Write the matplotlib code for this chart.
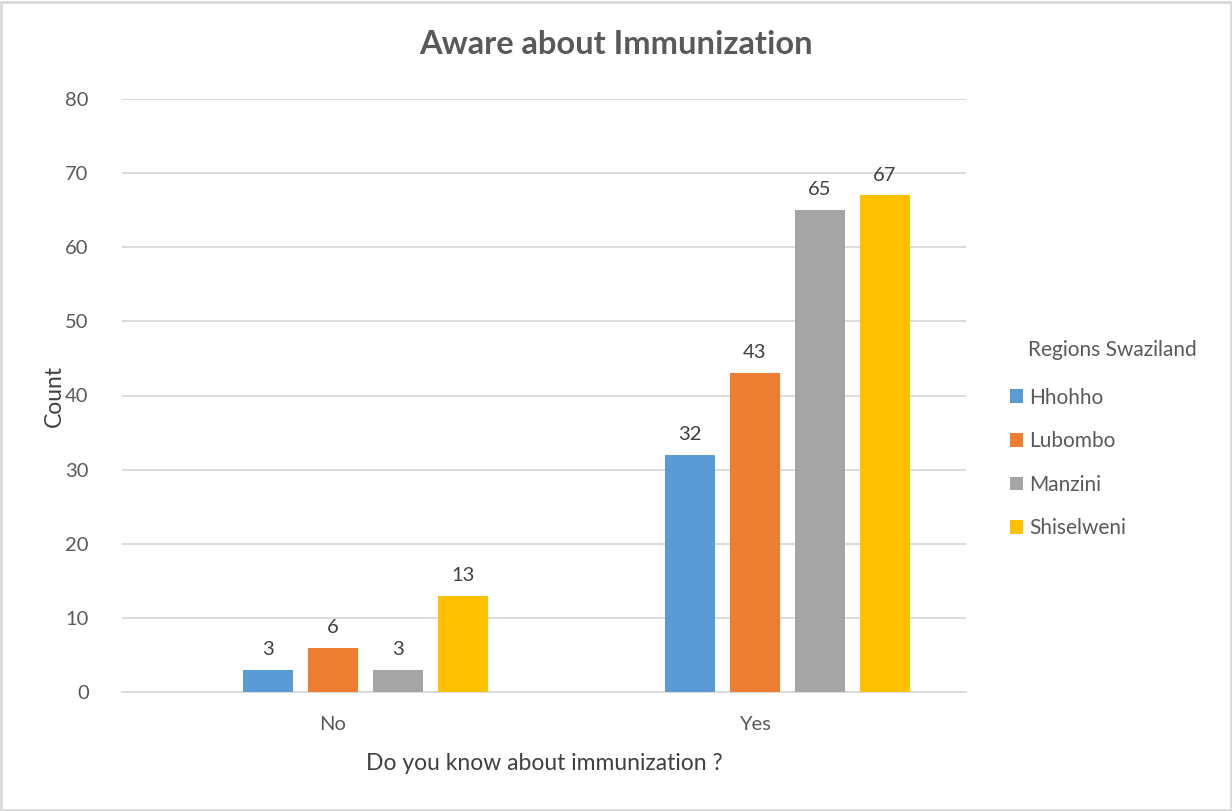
import matplotlib.pyplot as plt
import matplotlib.patches as mpatches
import numpy as np

plt.rcParams['font.family'] = ['Lato', 'DejaVu Sans']

# Awareness counts by region
categories = ['No', 'Yes']
regions = ['Hhohho', 'Lubombo', 'Manzini', 'Shiselweni']
hhohho = [3, 32]
lubombo = [6, 43]
manzini = [3, 65]
shiselweni = [13, 67]
series = [hhohho, lubombo, manzini, shiselweni]
colors = ['#5B9BD5', '#ED7D31', '#A5A5A5', '#FFC000']

text_c = '#595959'
grid_c = '#D9D9D9'

fig = plt.figure(figsize=(12.32, 8.11), dpi=100)
ax = fig.add_axes([122 / 1232, 1 - 692 / 811, 844 / 1232, 593 / 811])

x = np.arange(len(categories))
width = 50 / 422
step = 65 / 422
for i, (vals, name, c) in enumerate(zip(series, regions, colors)):
    # cluster has an empty first slot, so the drawn bars start at -1
    pos = x + (i - 1) * step
    bars = ax.bar(pos, vals, width, color=c, label=name, zorder=3)
    for b, v in zip(bars, vals):
        ax.text(b.get_x() + b.get_width() / 2, v + 1.6, str(v),
                ha='center', va='bottom', fontsize=14.5, color='#404040')

ax.set_xlim(-0.5, 1.5)
ax.set_ylim(0, 80)
ax.set_yticks(range(0, 81, 10))
ax.set_xticks(x)
ax.set_xticklabels(categories)
ax.tick_params(axis='both', length=0, labelsize=14.5, labelcolor=text_c)
ax.tick_params(axis='y', pad=24)
ax.tick_params(axis='x', pad=17)
ax.grid(axis='y', color=grid_c, linewidth=1.3, zorder=0)
for s in ['top', 'right', 'left']:
    ax.spines[s].set_visible(False)
ax.spines['bottom'].set_color(grid_c)
ax.spines['bottom'].set_linewidth(1.3)

ax.set_ylabel('Count', fontsize=16.5, color='#404040', labelpad=0)
fig.text(544 / 1232, 1 - 764 / 811, 'Do you know about immunization ?',
         ha='center', va='center', fontsize=16.5, color='#404040')
fig.text(616 / 1232, 1 - 45 / 811, 'Aware about Immunization',
         ha='center', va='center', fontsize=23.5, weight='bold', color=text_c)

leg = fig.legend(loc='upper left', bbox_to_anchor=(991 / 1232, 1 - 369 / 811),
                 frameon=False, fontsize=15, handlelength=0.65,
                 handleheight=0.65, handletextpad=0.3, labelspacing=1.13)
for t in leg.get_texts():
    t.set_color(text_c)
fig.text(1028 / 1232, 1 - 350 / 811, 'Regions Swaziland', ha='left',
         va='center', fontsize=15, color=text_c)

# chart area border
fig.patches.append(mpatches.Rectangle((0.001, 0.001), 0.998, 0.997,
                                      transform=fig.transFigure, fill=False,
                                      edgecolor='#D9D9D9', linewidth=2))

fig.savefig('out.png', dpi=100)
